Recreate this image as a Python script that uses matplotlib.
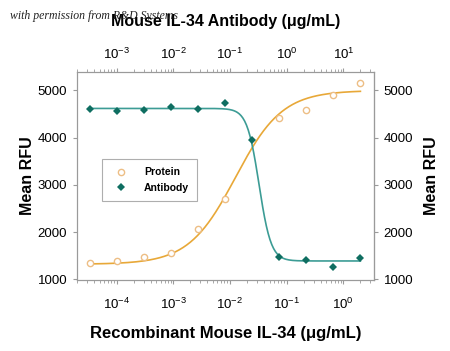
import numpy as np
import matplotlib
matplotlib.use("Agg")
import matplotlib.pyplot as plt

plt.rcParams['font.family'] = ['Liberation Sans', 'DejaVu Sans']
plt.rcParams['mathtext.fontset'] = 'custom'
plt.rcParams['mathtext.rm'] = 'Liberation Sans'
plt.rcParams['mathtext.it'] = 'Liberation Sans:italic'
plt.rcParams['mathtext.bf'] = 'Liberation Sans:bold'

# data
protein_conc = [3.39e-5, 1.02e-4, 3.05e-4, 9.14e-4, 2.74e-3, 8.23e-3,
                0.0741, 0.222, 0.667, 2.0]
protein_rfu = [1340, 1383, 1478, 1555, 2070, 2709, 4411, 4582, 4900, 5155]

antibody_conc = [3.39e-4, 1.02e-3, 3.05e-3, 9.14e-3, 2.74e-2, 8.23e-2,
                 0.247, 0.741, 2.22, 6.67, 20.0]
antibody_rfu = [4618, 4567, 4588, 4652, 4610, 4737, 3950, 1481, 1411, 1268, 1460]

# 4PL fit parameters (bottom, top, ec50, hill)
protein_fit = (1320, 5000, 0.0125, 1.05)
antibody_fit = (1390, 4620, 0.326, -4.1)

c_prot = '#E8A838'
c_prot_pt = '#EDBE85'
c_ab = '#0F6E61'
c_ab_line = '#3C9C95'
grey = '#9a9a9a'


def fourpl(x, p):
    b, t, ec, h = p
    return b + (t - b) / (1 + (ec / x) ** h)


fig = plt.figure(figsize=(4.5, 3.51), dpi=100)
ax = fig.add_axes([0.171, 0.202, 0.660, 0.594])
ax.set_xscale('log')
ax.set_xlim(10 ** -4.70, 10 ** 0.54)
ax.set_ylim(985, 5400)

axt = ax.twiny()
axt.set_xscale('log')
axt.set_xlim(10 ** -3.70, 10 ** 1.54)

xs = np.logspace(np.log10(protein_conc[0]), np.log10(protein_conc[-1]), 300)
ax.plot(xs, fourpl(xs, protein_fit), color=c_prot, lw=1.2)
ax.plot(protein_conc, protein_rfu, 'o', mfc='white', mec=c_prot_pt,
        mew=1.0, ms=4.5, label='Protein')

xa = np.logspace(np.log10(antibody_conc[0]), np.log10(antibody_conc[-1]), 300)
axt.plot(xa, fourpl(xa, antibody_fit), color=c_ab_line, lw=1.2)
ab_pts, = axt.plot(antibody_conc, antibody_rfu, 'D', color=c_ab, ms=4.2, mew=0)

ax2 = ax.secondary_yaxis('right')
ax.set_yticks([1000, 2000, 3000, 4000, 5000])
ax2.set_yticks([1000, 2000, 3000, 4000, 5000])

for a in (ax, axt, ax2):
    for s in a.spines.values():
        s.set_color(grey)
        s.set_linewidth(0.8)
    a.tick_params(which='both', color=grey, labelsize=9.5, direction='out')
    a.tick_params(which='major', length=3, width=0.8, pad=4)
    a.tick_params(which='minor', length=2, width=0.6)

ax.tick_params(axis='x', pad=9)
axt.tick_params(axis='x', pad=4)

ax.set_ylabel('Mean RFU', fontsize=11.5, fontweight='bold', labelpad=2)
ax2.set_ylabel('Mean RFU', fontsize=11.5, fontweight='bold', labelpad=8)
ax.set_xlabel('Recombinant Mouse IL-34 (\u03bcg/mL)', fontsize=12,
              fontweight='bold', labelpad=10)
axt.set_xlabel('Mouse IL-34 Antibody (\u03bcg/mL)', fontsize=11.5,
               fontweight='bold', labelpad=15)

h1, l1 = ax.get_legend_handles_labels()
leg = ax.legend(h1 + [ab_pts], l1 + ['Antibody'], loc='center left',
                bbox_to_anchor=(0.068, 0.48), fontsize=7.5, frameon=True,
                fancybox=False, edgecolor=grey, handletextpad=1.2,
                borderpad=0.8, labelspacing=0.5)
for t in leg.get_texts():
    t.set_fontweight('bold')
leg.get_frame().set_linewidth(0.8)

fig.text(0.022, 0.953, 'with permission from R&D Systems', fontsize=8.5,
         family='Liberation Serif', style='italic', color='#222222',
         va='center')

fig.savefig('out.png', dpi=100)
